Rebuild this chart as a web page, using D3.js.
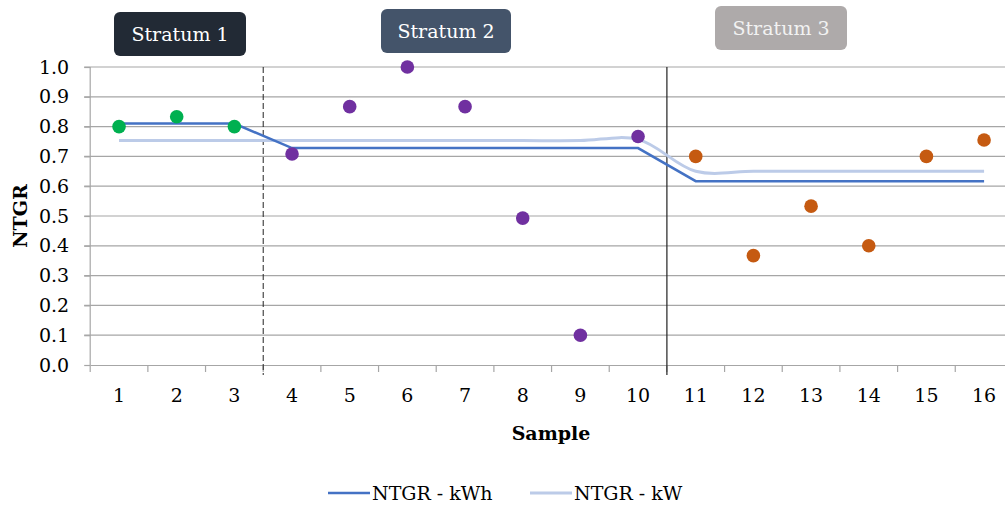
<!DOCTYPE html>
<html><head><meta charset="utf-8">
<script src="https://cdn.jsdelivr.net/npm/d3@7"></script>
<style>body{margin:0;background:#fff}svg{display:block}text{font-family:"Palatino Linotype","Book Antiqua",Palatino,"DejaVu Serif",serif}</style>
</head><body><svg id="c" width="1005" height="506"></svg>
<script>
const samples = [1,2,3,4,5,6,7,8,9,10,11,12,13,14,15,16];
const stratumOf = [1,1,1,2,2,2,2,2,2,2,3,3,3,3,3,3];
const ntgrPoints = [0.80,0.833,0.80,0.708,0.867,1.0,0.867,0.493,0.10,0.767,0.70,0.367,0.533,0.40,0.70,0.755];
const ntgrKWh = [0.81,0.81,0.81,0.728,0.728,0.728,0.728,0.728,0.728,0.728,0.617,0.617,0.617,0.617,0.617,0.617];
const ntgrKW = [0.753,0.753,0.753,0.753,0.753,0.753,0.753,0.753,0.753,0.757,0.65,0.65,0.65,0.65,0.65,0.65];
const yTicks = [0,0.1,0.2,0.3,0.4,0.5,0.6,0.7,0.8,0.9,1.0];
const strata = ["Stratum 1","Stratum 2","Stratum 3"];
const stratumBoundaries = [3,10];

const svg = d3.select("#c");
const L = 90.2, T = 67, B = 365, bw = 57.67;
const x = d3.scaleBand().domain(samples).range([L, L + bw*samples.length]).paddingInner(0).paddingOuter(0);
const y = d3.scaleLinear().domain([0,1]).range([B, T]);
const cx = s => x(s) + x.bandwidth()/2;
const font = "DejaVu Serif";
const fs = 19;

// gridlines
svg.append("g").selectAll("line").data(yTicks.slice(1)).join("line")
  .attr("x1", L-6).attr("x2", 1005).attr("y1", d=>y(d)).attr("y2", d=>y(d))
  .attr("stroke","#a6a6a6").attr("stroke-width",1.2);

// y axis
const ya = svg.append("g").attr("transform",`translate(${L},0)`)
  .call(d3.axisLeft(y).tickValues(yTicks).tickFormat(d3.format(".1f")).tickSize(6).tickPadding(15));
ya.select(".domain").attr("stroke","#a6a6a6").attr("stroke-width",1.2).attr("d",`M0,${T}V${B}`);
ya.selectAll(".tick line").attr("stroke","#a6a6a6").attr("stroke-width",1.2);
ya.selectAll(".tick text").attr("font-family",font).attr("font-size",fs).attr("fill","#000");

// x axis
const xa = svg.append("g").attr("transform",`translate(0,${B})`)
  .call(d3.axisBottom(x).tickSize(0).tickPadding(24));
xa.select(".domain").attr("stroke","#a6a6a6").attr("stroke-width",1.2);
xa.selectAll(".tick text").attr("font-family",font).attr("font-size",fs).attr("fill","#000");
svg.append("g").selectAll("line").data(d3.range(0, samples.length+1)).join("line")
  .attr("x1", i=>L+i*bw).attr("x2", i=>L+i*bw).attr("y1", B).attr("y2", B+7)
  .attr("stroke","#a6a6a6").attr("stroke-width",1.2);

// stratum boundaries
svg.append("line").attr("x1", x(stratumBoundaries[0]+1)).attr("x2", x(stratumBoundaries[0]+1))
  .attr("y1", T).attr("y2", B+10).attr("stroke","#222").attr("stroke-width",1).attr("stroke-dasharray","6,3");
svg.append("line").attr("x1", x(stratumBoundaries[1]+1)).attr("x2", x(stratumBoundaries[1]+1))
  .attr("y1", T).attr("y2", B+10).attr("stroke","#222").attr("stroke-width",1.2);

// lines
svg.append("path").datum(ntgrKW.map((v,i)=>[cx(samples[i]), y(v)]))
  .attr("d", d3.line().curve(d3.curveCatmullRom.alpha(0.5))).attr("fill","none")
  .attr("stroke","#bccbe8").attr("stroke-width",3);
svg.append("path").datum(ntgrKWh.map((v,i)=>[cx(samples[i]), y(v)]))
  .attr("d", d3.line()).attr("fill","none")
  .attr("stroke","#4472c4").attr("stroke-width",2.5);

// points
const col = {1:"#00b050",2:"#7030a0",3:"#c55a11"};
svg.append("g").selectAll("circle").data(samples).join("circle")
  .attr("cx", s=>cx(s)).attr("cy", (s,i)=>y(ntgrPoints[i])).attr("r",6.8)
  .attr("fill",(s,i)=>col[stratumOf[i]]);

// axis titles
svg.append("text").attr("x",551).attr("y",440).attr("text-anchor","middle")
  .attr("font-family",font).attr("font-size",fs).attr("font-weight","bold").text("Sample");
svg.append("text").attr("transform","translate(27,216) rotate(-90)").attr("text-anchor","middle")
  .attr("font-family",font).attr("font-size",fs).attr("font-weight","bold").text("NTGR");

// strata labels
const boxes = [{x:114,y:12,w:132,h:44,f:"#222a35"},{x:381,y:9,w:130,h:44,f:"#44546a"},{x:715,y:6,w:132,h:44,f:"#aeaaaa"}];
boxes.forEach((b,i)=>{
  svg.append("rect").attr("x",b.x).attr("y",b.y).attr("width",b.w).attr("height",b.h).attr("rx",6).attr("fill",b.f);
  svg.append("text").attr("x",b.x+b.w/2).attr("y",b.y+b.h/2+7).attr("text-anchor","middle")
    .attr("font-family",font).attr("font-size",fs).attr("fill",i===2?"#f2f2f2":"#fff").text(strata[i]);
});

// legend
const leg = [{x:328,label:"NTGR - kWh",c:"#4472c4",w:2.5},{x:530,label:"NTGR - kW",c:"#bccbe8",w:3}];
leg.forEach(l=>{
  svg.append("line").attr("x1",l.x).attr("x2",l.x+42).attr("y1",493).attr("y2",493).attr("stroke",l.c).attr("stroke-width",l.w);
  svg.append("text").attr("x",l.x+44).attr("y",500).attr("font-family",font).attr("font-size",fs).text(l.label);
});
</script></body></html>
